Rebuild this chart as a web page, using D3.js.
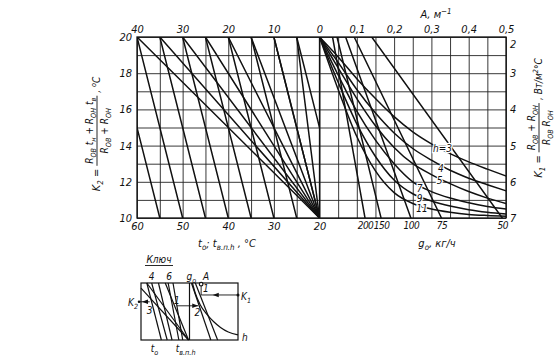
<!DOCTYPE html>
<html>
<head>
<meta charset="utf-8">
<script src="https://cdn.jsdelivr.net/npm/d3@7"></script>
<style>
  html, body { margin: 0; padding: 0; background: #fff; }
  svg { display: block; }
  text { font-family: "Liberation Sans Narrow", "DejaVu Sans Condensed", "Liberation Sans", sans-serif; font-style: italic; fill: #111; }
  .grid line { stroke: #222; stroke-width: 0.9; }
  .grid path { display: none; }
  .ax path, .ax line { display: none; }
  .ax text { font-size: 11px; font-family: "Liberation Sans Narrow", "DejaVu Sans Condensed", sans-serif; }
  .ax.tight text { font-size: 10px; letter-spacing: -0.5px; }
</style>
</head>
<body>
<div id="chart"></div>
<script>
// left half: t_n on top, t_o / t_v.p.h at the bottom, K2 on the left
const tnTicks = [40, 30, 20, 10, 0];
const toTicks = [60, 50, 40, 30, 20];
const k2Ticks = [20, 18, 16, 14, 12, 10];
// steep t_o lines: t where the line is at K2 = 20, and where it is at K2 = 10
const steepFrom = [65, 60, 55, 50, 45, 40, 35, 30, 25];
const steepTo = [55, 50, 45, 40, 35, 30, 25, 20, 15];
// lines from the top scale meeting at t = 20, K2 = 10
const fanTop = [60, 55, 50, 45, 40, 35, 30, 25];
const fanEnd = [20, 10];

// right half: A on top, g_o at the bottom, K1 on the right
const aTicks = [0.1, 0.2, 0.3, 0.4, 0.5];
const k1Ticks = [2, 3, 4, 5, 6, 7];
const gLabels = [200, 150, 100, 75, 50];
const gTopA = [0.035, 0.047, 0.07, 0.093, 0.14];      // at K1 = 2
const gBottomA = [0.122, 0.165, 0.245, 0.327, 0.49];  // at K1 = 7

// h curves, K1 read every 0.05 of A
const hNames = ['h=3', '4', '5', '7', '9', '11'];
const hA = [0, 0.05, 0.1, 0.15, 0.2, 0.25, 0.3, 0.35, 0.4, 0.45, 0.5];
const h3 = [2, 2.55, 3.15, 3.7, 4.2, 4.62, 4.95, 5.22, 5.45, 5.65, 5.84];
const h4 = [2, 2.7, 3.45, 4.1, 4.65, 5.08, 5.4, 5.68, 5.9, 6.08, 6.25];
const h5 = [2, 2.85, 3.7, 4.45, 5.05, 5.5, 5.8, 6.05, 6.27, 6.45, 6.6];
const h7 = [2, 3.05, 4.05, 4.85, 5.5, 6.0, 6.27, 6.45, 6.58, 6.68, 6.75];
const h9 = [2, 3.25, 4.4, 5.3, 5.95, 6.33, 6.53, 6.67, 6.77, 6.84, 6.89];
const h11 = [2, 3.45, 4.75, 5.7, 6.3, 6.6, 6.75, 6.84, 6.9, 6.93, 6.95];
const hCurves = [h3, h4, h5, h7, h9, h11];
// where the curve labels sit (A, K1 of the text end)
const hLabelA = [0.355, 0.333, 0.33, 0.276, 0.276, 0.29];
const hLabelK1 = [5.18, 5.73, 6.06, 6.28, 6.56, 6.83];

// key (schematic), local units 0..100 in both directions
const keySteep = [[6, 0, 21, 100], [11, 0, 27, 100], [18, 0, 32, 100], [28, 0, 39, 100], [33, 0, 43, 100]];
const keyFan = [[0, 9, 49, 100], [6, 0, 49, 100], [25, 0, 49, 100]];
const keyRight = [[52, 0, 72, 100], [56, 0, 79, 100]];
const keyCurveU = [53, 56, 61, 68, 75, 82, 90, 100];
const keyCurveV = [0, 18, 38, 55, 68, 78, 86, 91];

const W = 554, H = 363;
const X0 = 137, XM = 319.5, X1 = 506, Y0 = 37, Y1 = 218;
const INK = '#111';

const svg = d3.select('#chart').append('svg')
  .attr('width', W).attr('height', H).attr('viewBox', `0 0 ${W} ${H}`);

const xT = d3.scaleLinear().domain([60, 20]).range([X0, XM]);
const xTn = d3.scaleLinear().domain([40, 0]).range([X0, XM]);
const xA = d3.scaleLinear().domain([0, 0.5]).range([XM, X1]);
const yK2 = d3.scaleLinear().domain([10, 20]).range([Y1, Y0]);
const yK1 = d3.scaleLinear().domain([2, 7]).range([Y0, Y1]);

// grid
svg.append('g').attr('class', 'grid').attr('transform', `translate(0,${Y1})`)
  .call(d3.axisBottom(xT).tickValues(d3.range(20, 61, 5)).tickSize(-(Y1 - Y0)).tickFormat(''));
svg.append('g').attr('class', 'grid').attr('transform', `translate(0,${Y1})`)
  .call(d3.axisBottom(xA).tickValues(d3.range(1, 11).map(i => i * 0.05)).tickSize(-(Y1 - Y0)).tickFormat(''));
svg.append('g').attr('class', 'grid').attr('transform', `translate(${X0},0)`)
  .call(d3.axisLeft(yK2).tickValues(d3.range(10, 21)).tickSize(-(X1 - X0)).tickFormat(''));
svg.append('rect').attr('x', X0).attr('y', Y0).attr('width', X1 - X0).attr('height', Y1 - Y0)
  .attr('fill', 'none').attr('stroke', INK).attr('stroke-width', 1.3);
svg.append('line').attr('x1', XM).attr('x2', XM).attr('y1', Y0).attr('y2', Y1)
  .attr('stroke', INK).attr('stroke-width', 1.3);

// clip paths for the two halves
const defs = svg.append('defs');
defs.append('clipPath').attr('id', 'clipL').append('rect')
  .attr('x', X0).attr('y', Y0).attr('width', XM - X0).attr('height', Y1 - Y0);
defs.append('clipPath').attr('id', 'clipR').append('rect')
  .attr('x', XM).attr('y', Y0).attr('width', X1 - XM).attr('height', Y1 - Y0);

const left = svg.append('g').attr('clip-path', 'url(#clipL)')
  .attr('stroke', INK).attr('stroke-width', 1.5).attr('stroke-linecap', 'round');
left.selectAll('line.steep').data(steepFrom).join('line').attr('class', 'steep')
  .attr('x1', d => xT(d)).attr('y1', yK2(20))
  .attr('x2', (d, i) => xT(steepTo[i])).attr('y2', yK2(10));
left.selectAll('line.fan').data(fanTop).join('line').attr('class', 'fan')
  .attr('x1', d => xT(d)).attr('y1', yK2(20))
  .attr('x2', xT(fanEnd[0])).attr('y2', yK2(fanEnd[1]));

const right = svg.append('g').attr('clip-path', 'url(#clipR)')
  .attr('stroke', INK).attr('stroke-width', 1.5).attr('fill', 'none').attr('stroke-linecap', 'round');
right.selectAll('line.g').data(gTopA).join('line').attr('class', 'g')
  .attr('x1', d => xA(d)).attr('y1', yK1(2))
  .attr('x2', (d, i) => xA(gBottomA[i])).attr('y2', yK1(7));
const hLine = d3.line().x((d, i) => xA(hA[i])).y(d => yK1(d)).curve(d3.curveMonotoneX);
right.selectAll('path.h').data(hCurves).join('path').attr('class', 'h').attr('d', hLine);

svg.selectAll('text.hlab').data(hNames).join('text').attr('class', 'hlab')
  .attr('x', (d, i) => xA(hLabelA[i])).attr('y', (d, i) => yK1(hLabelK1[i]))
  .attr('text-anchor', 'end').attr('font-size', 10)
  .attr('stroke', '#fff').attr('stroke-width', 2.5).attr('paint-order', 'stroke')
  .text(d => d);

// tick labels
const fmtA = d => d3.format('.1f')(d).replace('.', ',');
svg.append('g').attr('class', 'ax').attr('transform', `translate(0,${Y0})`)
  .call(d3.axisTop(xTn).tickValues(tnTicks).tickSize(0).tickPadding(4));
svg.append('g').attr('class', 'ax').attr('transform', `translate(0,${Y0})`)
  .call(d3.axisTop(xA).tickValues(aTicks).tickSize(0).tickPadding(4).tickFormat(fmtA));
svg.append('g').attr('class', 'ax').attr('transform', `translate(${X0},0)`)
  .call(d3.axisLeft(yK2).tickValues(k2Ticks).tickSize(0).tickPadding(5));
const rightAx = svg.append('g').attr('class', 'ax').attr('transform', `translate(${X1},0)`)
  .call(d3.axisRight(yK1).tickValues(k1Ticks).tickSize(0).tickPadding(4).tickFormat(d3.format('d')));
// the top "2" sits just under the corner, clear of "0,5"
rightAx.selectAll('.tick text').filter(d => d === 2).attr('dy', '0.95em');
svg.append('g').attr('class', 'ax').attr('transform', `translate(0,${Y1})`)
  .call(d3.axisBottom(xT).tickValues(toTicks).tickSize(0).tickPadding(4));
svg.append('g').attr('class', 'ax tight').attr('transform', `translate(0,${Y1})`)
  .call(d3.axisBottom(xA).tickValues(gBottomA).tickSize(0).tickPadding(4).tickFormat((d, i) => gLabels[i]));

// text with sub/superscripts
function rich(sel, parts, size) {
  let shift = 0;
  parts.forEach(([s, kind]) => {
    const target = kind === 'sub' ? 3 : kind === 'sup' ? -4 : 0;
    sel.append('tspan').attr('dy', target - shift)
      .attr('font-size', kind ? size * 0.72 : size).text(s);
    shift = target;
  });
  return sel;
}

rich(svg.append('text').attr('x', 436).attr('y', 18).attr('text-anchor', 'middle'),
  [['A, м'], ['−1', 'sup']], 11);
rich(svg.append('text').attr('x', 227).attr('y', 247).attr('text-anchor', 'middle'),
  [['t'], ['о', 'sub'], ['; t'], ['в.п.h', 'sub'], [' , °C']], 11);
rich(svg.append('text').attr('x', 437).attr('y', 247).attr('text-anchor', 'middle'),
  [['g'], ['о', 'sub'], [', кг/ч']], 11);

// rotated fraction labels
function fracLabel(cx, cy, lead, num, den, tail, size) {
  const g = svg.append('g').attr('transform', `translate(${cx},${cy}) rotate(-90)`);
  const a = rich(g.append('text').attr('y', 4), lead, size + 1);
  const n = rich(g.append('text').attr('y', -3).attr('text-anchor', 'middle'), num, size);
  const d = rich(g.append('text').attr('y', 12).attr('text-anchor', 'middle'), den, size);
  const t = rich(g.append('text').attr('y', 4), tail, size);
  const wa = a.node().getComputedTextLength();
  const wf = Math.max(n.node().getComputedTextLength(), d.node().getComputedTextLength()) + 4;
  const wt = t.node().getComputedTextLength();
  const start = -(wa + wf + wt + 6) / 2;
  a.attr('x', start);
  const fc = start + wa + 3 + wf / 2;
  n.attr('x', fc);
  d.attr('x', fc);
  g.append('line').attr('x1', fc - wf / 2).attr('x2', fc + wf / 2).attr('y1', 1).attr('y2', 1)
    .attr('stroke', INK).attr('stroke-width', 0.9);
  t.attr('x', fc + wf / 2 + 3);
}

fracLabel(96, 134,
  [['K'], ['2', 'sub'], [' =']],
  [['R'], ['ОВ', 'sub'], [' t'], ['н', 'sub'], [' + R'], ['ОН', 'sub'], [' t'], ['в', 'sub']],
  [['R'], ['ОВ', 'sub'], [' + R'], ['ОН', 'sub']],
  [[', '], ['o', 'sup'], ['C']], 10);
fracLabel(538, 118,
  [['K'], ['1', 'sub'], [' =']],
  [['R'], ['ОВ', 'sub'], [' + R'], ['ОН', 'sub']],
  [['R'], ['ОВ', 'sub'], [' R'], ['ОН', 'sub']],
  [[', Вт/м'], ['2', 'sup'], ['°C']], 10);

// key
const kx = d3.scaleLinear().domain([0, 100]).range([141, 238]);
const ky = d3.scaleLinear().domain([0, 100]).range([283, 340]);
const key = svg.append('g').attr('stroke', INK).attr('fill', 'none').attr('stroke-width', 1.2);
key.append('rect').attr('x', kx(0)).attr('y', ky(0)).attr('width', kx(100) - kx(0)).attr('height', ky(100) - ky(0));
key.append('line').attr('x1', kx(50)).attr('x2', kx(50)).attr('y1', ky(0)).attr('y2', ky(100));
key.selectAll('line.ks').data(keySteep.concat(keyFan, keyRight)).join('line').attr('class', 'ks')
  .attr('x1', d => kx(d[0])).attr('y1', d => ky(d[1])).attr('x2', d => kx(d[2])).attr('y2', d => ky(d[3]));
key.append('path').datum(keyCurveV)
  .attr('d', d3.line().x((d, i) => kx(keyCurveU[i])).y(d => ky(d)).curve(d3.curveMonotoneX));

function arrow(x1, x2, y, tipX, dir) {
  key.append('line').attr('x1', x1).attr('x2', x2).attr('y1', y).attr('y2', y).attr('stroke-width', 0.9);
  svg.append('path').attr('fill', INK)
    .attr('d', `M${tipX},${y} L${tipX + dir * 6},${y - 2.2} L${tipX + dir * 6},${y + 2.2}Z`);
}
arrow(kx(100), kx(62), ky(21), kx(74), 1);
key.append('line').attr('x1', kx(62)).attr('x2', kx(62)).attr('y1', ky(3)).attr('y2', ky(21)).attr('stroke-width', 0.9);
key.append('circle').attr('cx', kx(62)).attr('cy', ky(2)).attr('r', 1.8).attr('fill', '#fff');
svg.append('circle').attr('cx', kx(100)).attr('cy', ky(21)).attr('r', 1.5).attr('fill', INK);
arrow(kx(37), kx(59), ky(40), kx(59), -1);
arrow(kx(9), kx(-3), ky(33), kx(1), 1);
svg.append('circle').attr('cx', kx(-2)).attr('cy', ky(33)).attr('r', 1.3).attr('fill', INK);

const kt = (x, y, parts, anchor) =>
  rich(svg.append('text').attr('x', x).attr('y', y).attr('text-anchor', anchor || 'middle'), parts, 10);
kt(159, 263, [['Ключ']]);
svg.append('line').attr('x1', 145).attr('x2', 173).attr('y1', 265.5).attr('y2', 265.5)
  .attr('stroke', INK).attr('stroke-width', 0.9);
kt(kx(11), 280, [['4']]);
kt(kx(29), 280, [['6']]);
kt(kx(52), 280, [['g'], ['о', 'sub']]);
kt(kx(67), 280, [['A']]);
kt(kx(100) + 3, 300, [['K'], ['1', 'sub']], 'start');
kt(kx(-3), 306, [['K'], ['2', 'sub']], 'end');
kt(kx(9), 314, [['3']]);
kt(kx(37), 304, [['1']]);
kt(kx(58), 316, [['2']]);
kt(kx(64), 292, [['1']], 'start');
kt(kx(100) + 4, 341, [['h']], 'start');
kt(kx(14), 352, [['t'], ['о', 'sub']]);
kt(kx(46), 352, [['t'], ['в.п.h', 'sub']]);
</script>
</body>
</html>
